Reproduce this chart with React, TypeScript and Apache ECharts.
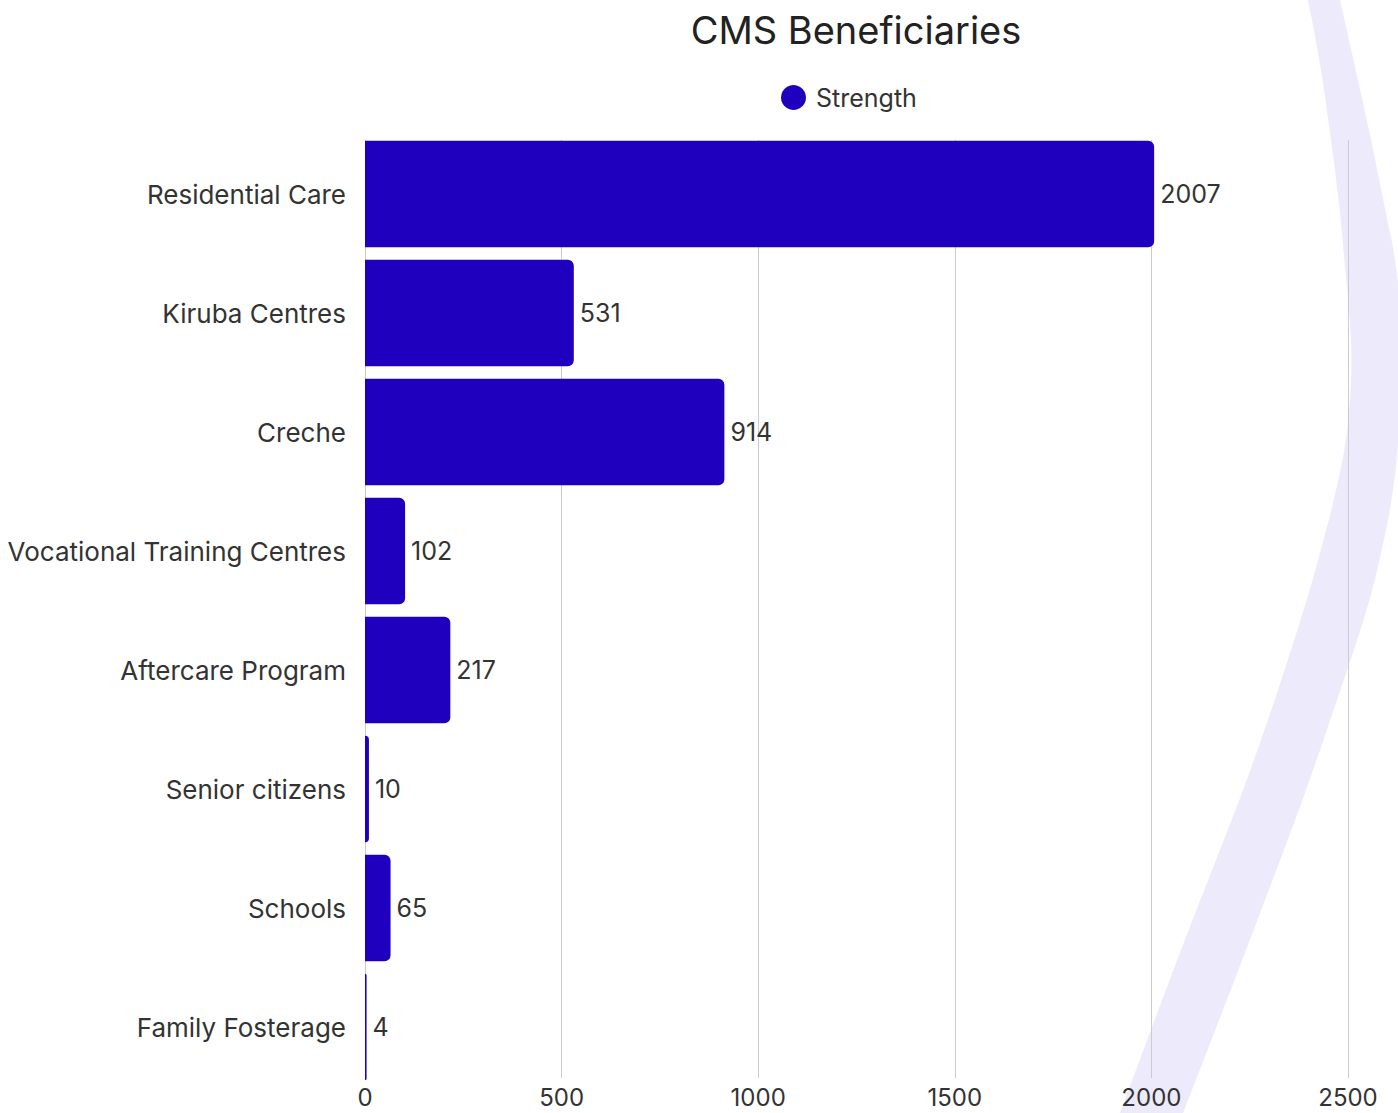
import React, { useEffect, useRef } from "react";
import * as echarts from "echarts";

const categories = [
  "Residential Care",
  "Kiruba Centres",
  "Creche",
  "Vocational Training Centres",
  "Aftercare Program",
  "Senior citizens",
  "Schools",
  "Family Fosterage",
];
const strength = [2007, 531, 914, 102, 217, 10, 65, 4];
const xTicks = { min: 0, max: 2500, interval: 500 };

const FONT = "Inter, 'Open Sans', sans-serif";

const leftEdge = [
  [1308, 0], [1320, 60], [1330, 133], [1339, 200], [1345, 267], [1350, 320],
  [1352, 360], [1350, 405], [1345, 450], [1334, 500], [1321, 550], [1307, 600],
  [1291, 650], [1275, 700], [1240, 800], [1200, 900], [1162, 1000], [1120, 1113],
];
const rightEdge = [
  [1183, 1113], [1227, 1000], [1265, 900], [1303, 800], [1337, 700],
  [1354, 650], [1370, 600], [1382, 550], [1392, 500], [1398, 450], [1404, 360],
  [1398, 270], [1383, 200], [1370, 133], [1340, 0],
];

function smoothPath(pts: number[][]): string {
  let d = "";
  for (let i = 1; i < pts.length - 1; i++) {
    const last = i === pts.length - 2;
    const ex = last ? pts[i + 1][0] : (pts[i][0] + pts[i + 1][0]) / 2;
    const ey = last ? pts[i + 1][1] : (pts[i][1] + pts[i + 1][1]) / 2;
    d += ` Q${pts[i][0]},${pts[i][1]} ${ex},${ey}`;
  }
  return d;
}

const bandPath =
  `M${leftEdge[0][0]},${leftEdge[0][1]}` +
  smoothPath(leftEdge) +
  ` L${rightEdge[0][0]},${rightEdge[0][1]}` +
  smoothPath(rightEdge) +
  " Z";

let registered = false;

export default function App() {
  const ref = useRef<HTMLDivElement>(null);
  useEffect(() => {
    if (!ref.current) return;
    if (!registered) {
      echarts.graphic.registerShape("band", echarts.graphic.extendPath(bandPath, {}));
      registered = true;
    }
    const chart = echarts.init(ref.current, undefined, { renderer: "svg" });
    chart.setOption({
      animation: false,
      backgroundColor: "#ffffff",
      textStyle: { fontFamily: FONT },
      title: {
        text: "CMS Beneficiaries",
        left: 851,
        textAlign: "center",
        top: 6,
        textStyle: { fontFamily: FONT, fontSize: 38, fontWeight: "normal", color: "#222" },
      },
      legend: {
        data: ["Strength"],
        left: 776,
        top: 80,
        icon: "circle",
        itemWidth: 25,
        itemHeight: 25,
        itemGap: 10,
        textStyle: { fontFamily: FONT, fontSize: 25, color: "#333", padding: [0, 0, 0, 5] },
      },
      graphic: [
        {
          type: "band",
          x: 0,
          y: 0,
          z: -10,
          silent: true,
          style: { fill: "#edeafb" },
        },
      ],
      grid: [
        { left: 365, right: 50, top: 134.5, bottom: 26.5, containLabel: false },
        { left: 365, right: 50, top: 140, bottom: 35, containLabel: false },
      ],
      xAxis: [
        {
          type: "value",
          gridIndex: 0,
          min: xTicks.min,
          max: xTicks.max,
          interval: xTicks.interval,
          axisLine: { show: false },
          axisTick: { show: false },
          splitLine: { show: false },
          axisLabel: { show: false },
        },
        {
          type: "value",
          gridIndex: 1,
          min: xTicks.min,
          max: xTicks.max,
          interval: xTicks.interval,
          z: 0,
          axisLine: { show: false },
          axisTick: { show: false },
          splitLine: { show: true, lineStyle: { color: "#cccccc", width: 1 } },
          axisLabel: {
            fontFamily: FONT,
            fontSize: 24,
            lineHeight: 22,
            color: "#333",
            margin: 8,
            formatter: (v: number) => String(v),
          },
        },
      ],
      yAxis: [
        {
          type: "category",
          gridIndex: 0,
          data: categories,
          inverse: true,
          axisLine: { show: false },
          axisTick: { show: false },
          axisLabel: { fontFamily: FONT, fontSize: 26, color: "#333", margin: 19 },
        },
        {
          type: "value",
          gridIndex: 1,
          show: false,
          splitLine: { show: false },
        },
      ],
      series: [
        {
          name: "Strength",
          type: "bar",
          xAxisIndex: 0,
          yAxisIndex: 0,
          data: strength,
          barCategoryGap: "10.7%",
          z: 2,
          itemStyle: { color: "#1e00be", borderRadius: [0, 6, 6, 0] },
          label: {
            show: true,
            position: "right",
            distance: 6,
            fontFamily: FONT,
            fontSize: 25,
            color: "#333",
          },
        },
      ],
    });
    return () => chart.dispose();
  }, []);
  return (
    <div
      ref={ref}
      style={{ position: "fixed", left: 0, top: 0, width: 1398, height: 1113 }}
    />
  );
}
